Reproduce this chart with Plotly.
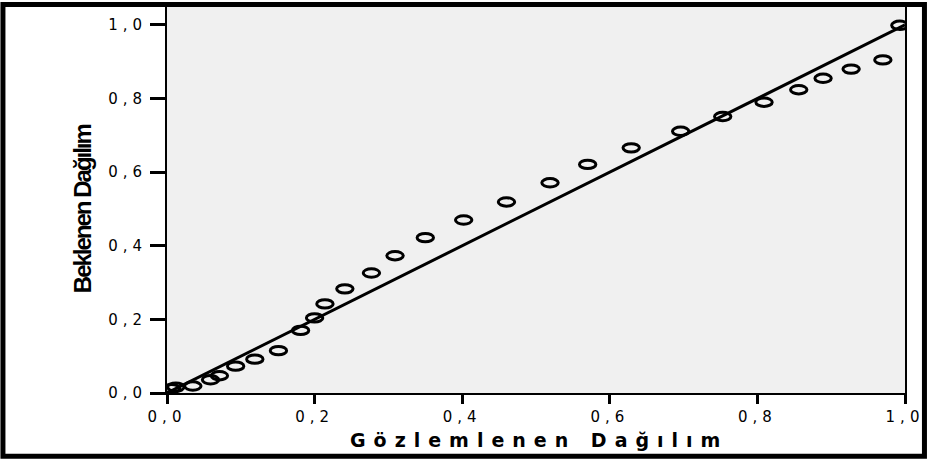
import plotly.graph_objects as go

# ---- data ----
observed = [0.006, 0.012, 0.035, 0.059, 0.071, 0.093, 0.119, 0.151, 0.181, 0.200,
            0.214, 0.241, 0.277, 0.309, 0.350, 0.402, 0.460, 0.519, 0.570, 0.629,
            0.696, 0.753, 0.809, 0.856, 0.889, 0.927, 0.970, 0.993]
expected = [0.012, 0.016, 0.019, 0.036, 0.047, 0.073, 0.092, 0.115, 0.170, 0.204,
            0.242, 0.283, 0.326, 0.373, 0.422, 0.470, 0.519, 0.571, 0.621, 0.666,
            0.711, 0.751, 0.790, 0.824, 0.855, 0.880, 0.905, 0.999]
ref_line_x = [0.0, 1.0]
ref_line_y = [0.0, 1.0]
tick_vals = [0.0, 0.2, 0.4, 0.6, 0.8, 1.0]
tick_labels = ["0,0", "0,2", "0,4", "0,6", "0,8", "1,0"]
x_title = "Gözlemlenen Dağılım"
y_title = "Beklenen Dağılım"

W, H = 929, 459
ML, MR, MT, MB = 167, 22, 5, 66
PW, PH = W - ML - MR, H - MT - MB

def spaced(s, ls):
    return '<span style="letter-spacing:%spx">%s</span>' % (ls, s)

fig = go.Figure()

# reference diagonal
fig.add_trace(go.Scatter(x=ref_line_x, y=ref_line_y, mode="lines",
                         line=dict(color="black", width=3), hoverinfo="skip",
                         showlegend=False))

# points (invisible carrier trace for hover) + ellipse markers anchored on data
fig.add_trace(go.Scatter(x=observed, y=expected, mode="markers",
                         marker=dict(size=14, color="rgba(0,0,0,0)"),
                         showlegend=False))

shapes = []
for xv, yv in zip(observed, expected):
    shapes.append(dict(type="circle", xref="x", yref="y",
                       xsizemode="pixel", ysizemode="pixel",
                       xanchor=xv, yanchor=yv,
                       x0=-8.2, x1=8.2, y0=-4.2, y1=4.2,
                       line=dict(color="black", width=3),
                       fillcolor="rgba(0,0,0,0)"))

# outer frame
fx0 = (2.5 - ML) / PW
fx1 = (W - 2.5 - ML) / PW
fy1 = (MT + PH - 2.5) / PH
fy0 = (MT + PH - (H - 2.5)) / PH
shapes.append(dict(type="rect", xref="paper", yref="paper",
                   x0=fx0, x1=fx1, y0=fy0, y1=fy1,
                   line=dict(color="black", width=5), layer="above"))

tick_font = dict(family="DejaVu Sans, sans-serif", size=15, color="black")

fig.update_layout(
    width=W, height=H,
    margin=dict(l=ML, r=MR, t=MT, b=MB),
    paper_bgcolor="white",
    plot_bgcolor="#f0f0f0",
    shapes=shapes,
    showlegend=False,
    xaxis=dict(range=[0, 1], tickvals=tick_vals,
               ticktext=[spaced(t, 5) for t in tick_labels],
               ticks="outside", ticklen=9, tickwidth=3, tickcolor="black",
               showline=True, linecolor="black", linewidth=2, mirror=True,
               showgrid=False, zeroline=False, tickfont=tick_font),
    yaxis=dict(range=[0, 1 + 18 / 370], tickvals=tick_vals,
               ticktext=[spaced(t, 5) for t in tick_labels],
               ticks="outside", ticklen=15, tickwidth=3, tickcolor="black",
               showline=True, linecolor="black", linewidth=2, mirror=True,
               showgrid=False, zeroline=False, tickfont=tick_font),
    annotations=[
        dict(text=spaced("<b>%s</b>" % x_title, 8), xref="paper", yref="paper",
             x=(540 - ML) / PW, y=(MT + PH - 440) / PH,
             xanchor="center", yanchor="middle", showarrow=False,
             font=dict(family="DejaVu Sans, sans-serif", size=19, color="black")),
        dict(text=spaced("<b>%s</b>" % y_title, -2), xref="paper", yref="paper",
             x=(83 - ML) / PW, y=(MT + PH - 208) / PH, textangle=-90,
             xanchor="center", yanchor="middle", showarrow=False,
             font=dict(family="Liberation Sans, Arial, sans-serif",
                       size=24, color="black")),
    ],
)

fig.write_html("out.html", config={"displayModeBar": False},
               post_script="document.body.style.margin='0';")
